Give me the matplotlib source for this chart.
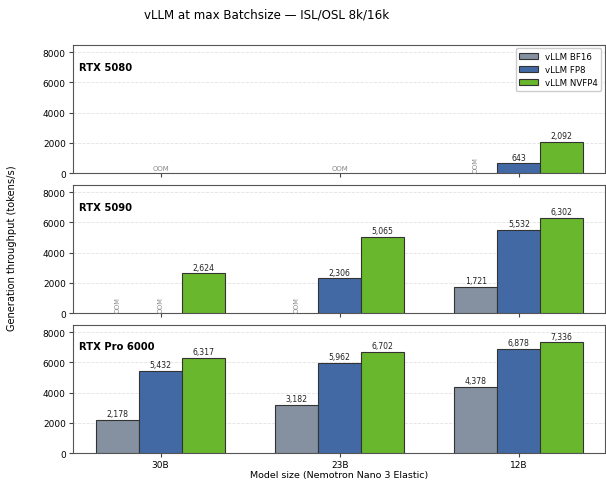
import numpy as np
import matplotlib
matplotlib.use("Agg")
import matplotlib.pyplot as plt

# Данные
models = ["30B", "23B", "12B"]
gpus = ["RTX 5080", "RTX 5090", "RTX Pro 6000"]
series = ["vLLM BF16", "vLLM FP8", "vLLM NVFP4"]
colors = ["#8591a1", "#4369a5", "#68b72d"]

# None = OOM
bf16 = [[None, None, None], [None, None, 1721], [2178, 3182, 4378]]
fp8 = [[None, None, 643], [None, 2306, 5532], [5432, 5962, 6878]]
nvfp4 = [[None, None, 2092], [2624, 5065, 6302], [6317, 6702, 7336]]

data = [bf16, fp8, nvfp4]

fig, axes = plt.subplots(3, 1, figsize=(6.06, 4.81), dpi=100, sharex=True)
fig.subplots_adjust(left=0.12, right=0.998, top=0.905, bottom=0.056, hspace=0.09)

x = np.arange(len(models))
w = 0.24

for gi, ax in enumerate(axes):
    for si in range(3):
        vals = data[si][gi]
        for mi, v in enumerate(vals):
            xpos = x[mi] + (si - 1) * w
            if v is None:
                continue
            ax.bar(xpos, v, w, color=colors[si], edgecolor="#333333", linewidth=0.8, zorder=3)
            ax.text(xpos, v + 110, f"{v:,}", ha="center", va="bottom", fontsize=5.6, color="#222222")
    # OOM метки
    for mi in range(len(models)):
        oom = [si for si in range(3) if data[si][gi][mi] is None]
        if len(oom) == 3:
            ax.text(x[mi], 150, "OOM", ha="center", va="bottom", fontsize=5, color="#888888")
        else:
            for si in oom:
                ax.text(x[mi] + (si - 1) * w, 100, "OOM", ha="center", va="bottom",
                        fontsize=4.7, color="#888888", rotation=90)
    ax.set_ylim(0, 8500)
    ax.set_yticks([0, 2000, 4000, 6000, 8000])
    ax.set_xlim(-0.49, 2.48)
    ax.tick_params(labelsize=6.5, color="#444444", length=3, pad=2)
    ax.grid(axis="y", linestyle="--", alpha=0.35, linewidth=0.6, zorder=0)
    for s in ax.spines.values():
        s.set_color("#555555")
    ax.text(0.012, 0.83, gpus[gi], transform=ax.transAxes, fontsize=7.2, fontweight="bold",
            va="center")

axes[-1].set_xticks(x)
axes[-1].set_xticklabels(models)
axes[-1].set_xlabel("Model size (Nemotron Nano 3 Elastic)", fontsize=6.8, labelpad=1)
fig.text(0.02, 0.484, "Generation throughput (tokens/s)", rotation=90, va="center", ha="center",
         fontsize=7.1)

handles = [plt.Rectangle((0, 0), 1, 1, facecolor=c, edgecolor="#333333", linewidth=0.8) for c in colors]
axes[0].legend(handles, series, loc="upper right", fontsize=6.2, framealpha=1, edgecolor="#cccccc",
               borderaxespad=0.4, handlelength=2.2)

fig.suptitle("vLLM at max Batchsize — ISL/OSL 8k/16k", x=0.44, y=0.983, fontsize=8.6)

plt.savefig("out.png", dpi=100)
